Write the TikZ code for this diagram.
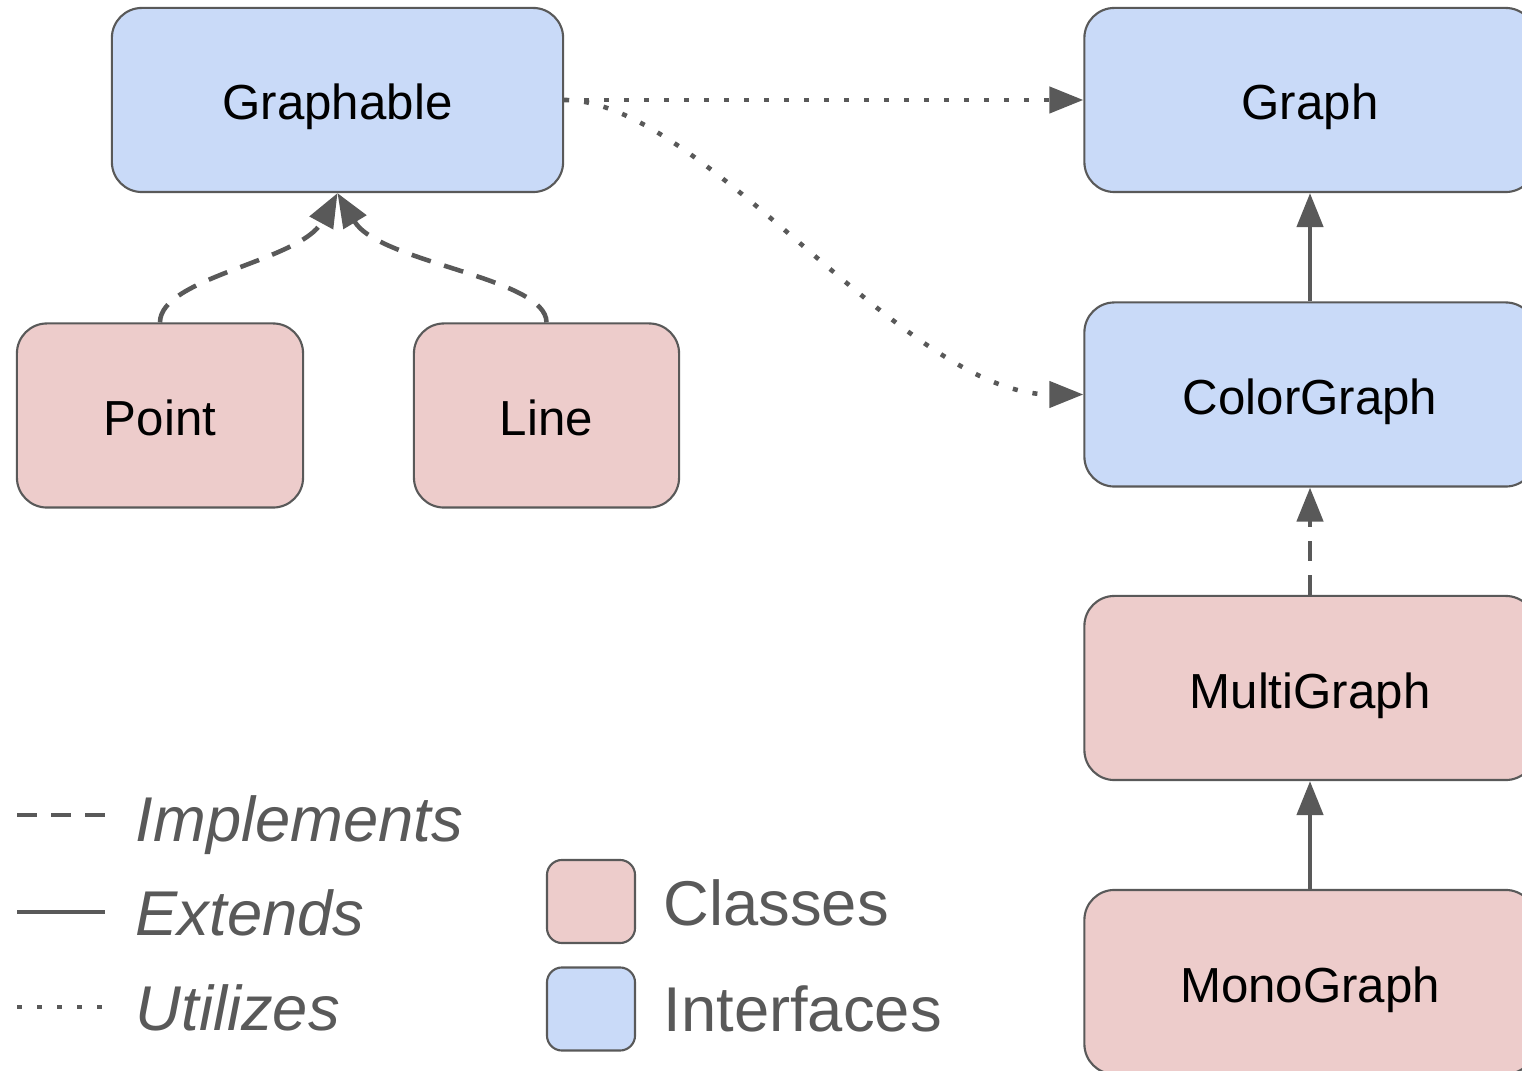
\documentclass[tikz,border=0pt]{standalone}
\usepackage{fontspec}
\setmainfont{Liberation Sans}
\usetikzlibrary{arrows.meta}
\definecolor{ifaceblue}{HTML}{C9DAF8}
\definecolor{classpink}{HTML}{EDCCCB}
\definecolor{edgegrey}{HTML}{595959}
\tikzstyle{typebox} = [draw=edgegrey, line width=0.6pt, rectangle,
    rounded corners=0.3cm, minimum height=1.84cm, inner sep=0pt,
    text height=0.4cm, text depth=0pt,
    font=\fontsize{14}{16}\selectfont]
\tikzstyle{iface} = [typebox, fill=ifaceblue, minimum width=4.51cm]
\tikzstyle{klass} = [typebox, fill=classpink]
\tikzstyle{link} = [draw=edgegrey, line width=1.3pt]
\tikzstyle{implements} = [link, dash pattern=on 0.2cm off 0.14cm]
\tikzstyle{utilizes} = [link, dash pattern=on 0.05cm off 0.15cm]
\tikzstyle{head} = [-{Triangle[length=0.34cm, width=0.26cm]}]
\tikzstyle{keybox} = [draw=edgegrey, line width=0.6pt, rounded corners=0.15cm,
    minimum width=0.88cm, minimum height=0.83cm]
\tikzstyle{keytext} = [text=edgegrey, font=\fontsize{18}{20}\selectfont,
    anchor=base west, inner sep=0pt]

\begin{document}
\begin{tikzpicture}[x=0.01cm, y=-0.01cm]
    \useasboundingbox (0,0) rectangle (1522,1071);

    \node [iface] (graphable) at (337.5,100) {Graphable};
    \node [klass, minimum width=2.86cm] (point) at (160,415.5) {Point};
    \node [klass, minimum width=2.65cm] (line) at (546.5,415.5) {Line};

    \node [iface] (graph) at (1310,100) {Graph};
    \node [iface] (colorgraph) at (1310,394.5) {ColorGraph};
    \node [klass, minimum width=4.51cm] (multigraph) at (1310,688) {MultiGraph};
    \node [klass, minimum width=4.51cm] (monograph) at (1310,982) {MonoGraph};

    \draw [implements, head] (point.north) .. controls +(0,-45) and +(-37,68) .. (graphable.south);
    \draw [implements, head] (line.north) .. controls +(0,-45) and +(42,70) .. (graphable.south);
    \draw [utilizes, head] (graphable.east) -- (graph.west);
    \draw [utilizes, head] (graphable.east) .. controls +(140,0) and +(-180,0) .. (colorgraph.west);
    \draw [link, head] (colorgraph.north) -- (graph.south);
    \draw [implements, head] (multigraph.north) -- (colorgraph.south);
    \draw [link, head] (monograph.north) -- (multigraph.south);

    % key
    \coordinate (implfrom) at (17,815);
    \coordinate (implto) at (105,815);
    \coordinate (extfrom) at (17,912);
    \coordinate (extto) at (105,912);
    \coordinate (utilfrom) at (17,1007);
    \coordinate (utilto) at (105,1007);
    \draw [implements] (implfrom) -- (implto);
    \draw [link] (extfrom) -- (extto);
    \draw [utilizes] (utilfrom) -- (utilto);
    \node [keytext] (impllabel) at (135,842) {\itshape Implements};
    \node [keytext] (extlabel) at (135,935) {\itshape Extends};
    \node [keytext] (utillabel) at (135,1030) {\itshape Utilizes};

    \node [keybox, fill=classpink] (classkey) at (591,901.5) {};
    \node [keybox, fill=ifaceblue] (ifacekey) at (591,1009) {};
    \node [keytext] (classlabel) at (663,925) {Classes};
    \node [keytext] (ifacelabel) at (663,1031) {Interfaces};
\end{tikzpicture}
\end{document}
